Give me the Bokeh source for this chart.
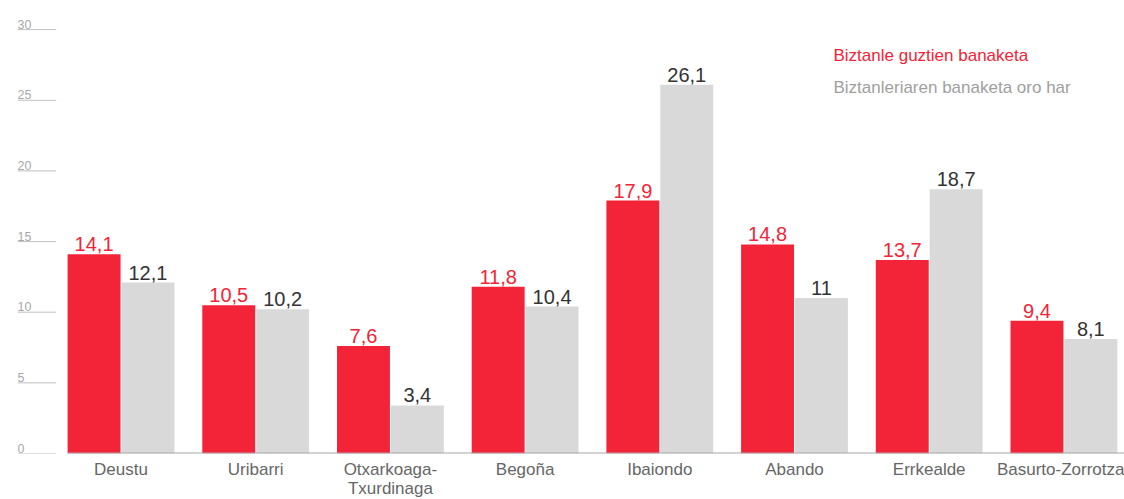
import numpy as np
from bokeh.plotting import figure
from bokeh.models import Range1d, FixedTicker, ColumnDataSource
from bokeh.core.properties import value
from bokeh.embed import file_html
from bokeh.resources import INLINE

categories = ["Deustu", "Uribarri", "Otxarkoaga-\nTxurdinaga", "Begoña", "Ibaiondo",
              "Abando", "Errkealde", "Basurto-Zorrotza"]
guztien = [14.1, 10.5, 7.6, 11.8, 17.9, 14.8, 13.7, 9.4]
oro_har = [12.1, 10.2, 3.4, 10.4, 26.1, 11, 18.7, 8.1]
y_ticks = [0, 5, 10, 15, 20, 25, 30]
series_names = ["Biztanle guztien banaketa", "Biztanleriaren banaketa oro har"]

RED = "#F32438"
GRAY = "#D9D9D9"
FONT_NAME = "'Liberation Sans', Arial, sans-serif"
FONT = value(FONT_NAME)

def fmt(v):
    s = ("%.1f" % v).rstrip("0").rstrip(".")
    return s.replace(".", ",")

FW, FH = 1107, 443
x_start = -0.7684
x_end = x_start + FW / 134.7
y_top = FH / 14.13

p = figure(width=1124, height=499, frame_width=FW, frame_height=FH,
           x_range=Range1d(x_start, x_end), y_range=Range1d(0, y_top),
           output_backend="svg", toolbar_location=None,
           min_border_left=17, min_border_right=0, min_border_top=10, min_border_bottom=46)
p.extra_x_ranges = {"px": Range1d(0, FW)}
p.extra_y_ranges = {"py": Range1d(FH, 0)}
p.outline_line_color = None
p.xgrid.visible = False
p.ygrid.visible = False
p.yaxis.visible = False
p.background_fill_color = "white"
p.border_fill_color = "white"

idx = np.arange(len(categories))
off = 0.2
w = 0.393

src = ColumnDataSource(dict(
    xr=idx - off, xg=idx + off, r=guztien, g=oro_har,
    rl=[fmt(v) for v in guztien], gl=[fmt(v) for v in oro_har]))

p.vbar(x="xr", top="r", bottom=0, width=w, source=src, fill_color=RED, line_color=None)
p.vbar(x="xg", top="g", bottom=0, width=w, source=src, fill_color=GRAY, line_color=None)

p.text(x="xr", y="r", text="rl", source=src, text_align="center", text_baseline="bottom",
       y_offset=-3, text_font=FONT, text_font_size="20px", text_color=RED)
p.text(x="xg", y="g", text="gl", source=src, text_align="center", text_baseline="bottom",
       y_offset=-3, text_font=FONT, text_font_size="20px", text_color="#333333")

# y tick marks and labels (left of bars)
p.segment(x0=[0] * len(y_ticks), x1=[38.7] * len(y_ticks), y0=y_ticks, y1=y_ticks,
          x_range_name="px", line_color="#c0c0c0", line_width=1)
p.text(x=[0] * len(y_ticks), y=y_ticks, text=[str(t) for t in y_ticks], x_range_name="px",
       text_align="left", text_baseline="bottom", y_offset=-1,
       text_font=FONT, text_font_size="12.5px", text_color="#a8a8a8")

# baseline
p.segment(x0=[50], x1=[FW], y0=[0], y1=[0], x_range_name="px",
          line_color="#a8a8a8", line_width=2)

# legend texts
p.text(x=[816, 816], y=[45, 77], text=series_names, x_range_name="px", y_range_name="py",
       text_align="left", text_baseline="middle", text_font=FONT, text_font_size="17px",
       text_color=[RED, "#a0a0a0"])

ax = p.xaxis[0]
ax.ticker = FixedTicker(ticks=list(idx))
ax.major_label_overrides = {int(i): c for i, c in zip(idx, categories)}
ax.axis_line_color = None
ax.major_tick_line_color = None
ax.minor_tick_line_color = None
ax.major_tick_in = 0
ax.major_tick_out = 0
ax.major_label_standoff = 6
ax.major_label_text_font = FONT_NAME
ax.major_label_text_font_size = "17px"
ax.major_label_text_color = "#666666"
ax.major_label_text_line_height = 1.0

open("out.html", "w").write(file_html(p, INLINE))
